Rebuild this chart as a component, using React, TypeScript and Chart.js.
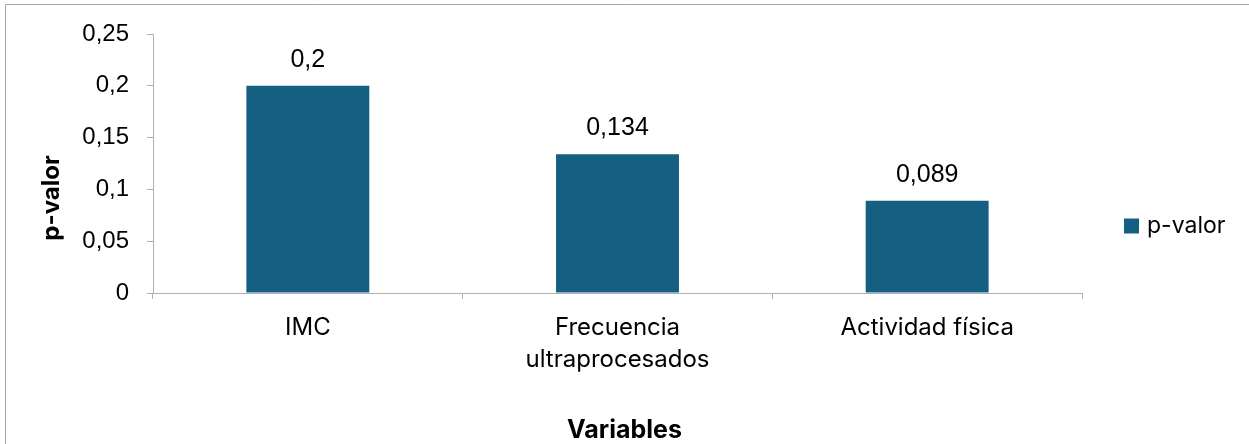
import React, { useEffect, useRef } from 'react';
import { Chart, registerables } from 'chart.js';

Chart.register(...registerables);

const categories: (string | string[])[] = ['IMC', ['Frecuencia', 'ultraprocesados'], 'Actividad física'];
const pValues = [0.2, 0.134, 0.089];
const seriesName = 'p-valor';
const xTitle = 'Variables';
const yTitle = 'p-valor';
const yMin = 0;
const yMax = 0.25;
const yStep = 0.05;

const BAR = '#156082';
const AXIS = '#b0b0b0';
const NUM_FONT = '"Liberation Sans", Arial, sans-serif';
const TXT_FONT = 'Inter, "Noto Sans", sans-serif';

const fmt = (v: number) => String(parseFloat(v.toFixed(3))).replace('.', ',');

const decorPlugin = {
  id: 'decor',
  beforeDraw(chart: any) {
    const ctx = chart.ctx;
    ctx.save();
    ctx.fillStyle = '#ffffff';
    ctx.fillRect(0, 0, chart.width, chart.height);
    ctx.strokeStyle = '#a6a6a6';
    ctx.lineWidth = 1;
    ctx.beginPath();
    ctx.moveTo(5.5, chart.height);
    ctx.lineTo(5.5, 4.5);
    ctx.lineTo(chart.width, 4.5);
    ctx.stroke();
    ctx.restore();
  },
  afterDatasetsDraw(chart: any) {
    const ctx = chart.ctx;
    const meta = chart.getDatasetMeta(0);
    const data = chart.data.datasets[0].data as number[];
    ctx.save();
    ctx.fillStyle = '#000000';
    ctx.font = `25px ${NUM_FONT}`;
    ctx.textAlign = 'center';
    ctx.textBaseline = 'middle';
    meta.data.forEach((bar: any, i: number) => {
      ctx.fillText(fmt(data[i]), bar.x, bar.y - 26);
    });
    ctx.restore();
  },
  afterDraw(chart: any) {
    const ctx = chart.ctx;
    const area = chart.chartArea;
    ctx.save();
    ctx.fillStyle = '#000000';
    // y axis title
    ctx.font = `bold 24px ${TXT_FONT}`;
    ctx.textAlign = 'center';
    ctx.textBaseline = 'middle';
    ctx.translate(52, 198);
    ctx.rotate(-Math.PI / 2);
    ctx.fillText(yTitle, 0, 0);
    ctx.setTransform(1, 0, 0, 1, 0, 0);
    // x axis title
    ctx.font = `bold 25px ${TXT_FONT}`;
    ctx.fillText(xTitle, chart.width / 2, 430);
    // legend
    const lx = area.right + 42;
    const ly = 226;
    ctx.fillStyle = BAR;
    ctx.fillRect(lx, ly - 7.5, 15, 15);
    ctx.fillStyle = '#000000';
    ctx.font = `23px ${TXT_FONT}`;
    ctx.textAlign = 'left';
    ctx.fillText(seriesName, lx + 23, ly);
    ctx.restore();
  },
};

export default function App() {
  const ref = useRef<HTMLCanvasElement>(null);
  useEffect(() => {
    if (!ref.current) return;
    const chart = new Chart(ref.current, {
      type: 'bar',
      data: {
        labels: categories as any,
        datasets: [
          {
            label: seriesName,
            data: pValues,
            backgroundColor: BAR,
            borderWidth: 0,
            categoryPercentage: 1,
            barPercentage: 0.397,
          },
        ],
      },
      options: {
        animation: false,
        responsive: false,
        layout: { padding: { left: 0, right: 167, top: 34, bottom: 0 } },
        plugins: {
          legend: { display: false },
          tooltip: { enabled: false },
          title: { display: false },
        },
        scales: {
          x: {
            afterFit: (s: any) => { s.height = 151; },
            grid: {
              display: true,
              drawOnChartArea: false,
              drawTicks: true,
              tickLength: 6,
              color: AXIS,
              offset: true,
            },
            border: { display: true, color: AXIS },
            ticks: {
              color: '#000000',
              font: { family: TXT_FONT, size: 24, lineHeight: 1.32 },
              padding: 13,
              maxRotation: 0,
              autoSkip: false,
            },
          },
          y: {
            min: yMin,
            max: yMax,
            afterFit: (s: any) => { s.width = 153; },
            grid: {
              display: true,
              drawOnChartArea: false,
              drawTicks: true,
              tickLength: 6,
              color: AXIS,
            },
            border: { display: true, color: AXIS },
            ticks: {
              stepSize: yStep,
              color: '#000000',
              font: { family: NUM_FONT, size: 24 },
              padding: 18,
              callback: (v: any) => fmt(Number(v)),
            },
          },
        },
      },
      plugins: [decorPlugin],
    });
    return () => chart.destroy();
  }, []);
  return (
    <div style={{ position: 'absolute', left: 0, top: 0, width: 1249, height: 444 }}>
      <canvas ref={ref} width={1249} height={444} />
    </div>
  );
}
